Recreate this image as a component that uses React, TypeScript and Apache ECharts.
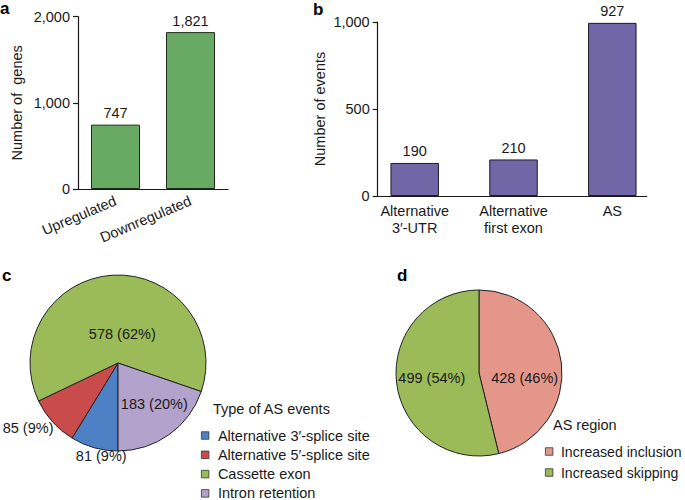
import React, { useEffect, useRef } from "react";
import * as echarts from "echarts";

// Panel a: differentially expressed genes
const geneCategories = ["Upregulated", "Downregulated"];
const geneCounts = [747, 1821];

// Panel b: events (bar heights as drawn, labels as printed)
const eventCategories = ["Alternative\n3\u2032-UTR", "Alternative\nfirst exon", "AS"];
const eventBarHeights = [190, 210, 995];
const eventLabels = ["190", "210", "927"];

// Panel c: type of AS events
const asTypeNames = [
  "Alternative 3\u2032-splice site",
  "Alternative 5\u2032-splice site",
  "Cassette exon",
  "Intron retention",
];
const asTypeCounts = [81, 85, 578, 183];
const asTypeColors = ["#4d80c4", "#c94b4b", "#9bbb59", "#b3a2cb"];

// Panel d: AS region
const regionNames = ["Increased inclusion", "Increased skipping"];
const regionCounts = [428, 499];
const regionColors = ["#e4968b", "#9bbb59"];

const FONT = "Liberation Sans, Arial, Helvetica, sans-serif";
const FS = 14.5;
const INK = "#1a1a1a";

const fmt = (v: number) => v.toLocaleString("en-US");

export default function App() {
  const ref = useRef<HTMLDivElement>(null);
  useEffect(() => {
    if (!ref.current) return;
    const chart = echarts.init(ref.current, undefined, { renderer: "svg" });

    const axisLine = { show: true, lineStyle: { color: INK, width: 1.2 } };
    const yTick = { show: true, length: 5, inside: false, lineStyle: { color: INK, width: 1.2 } };

    const pieCOffsets = [
      [-4, 48],
      [-55, 34],
      [7, 18],
      [9, 3],
    ];
    const pieDOffsets = [
      [1.5, 10],
      [-3, 0],
    ];
    const letterStyle = { fontSize: 17, fontWeight: "bold", color: "#000", fontFamily: FONT };

    chart.setOption({
      animation: false,
      textStyle: { fontFamily: FONT, color: INK },
      title: [
        { text: "a", left: 0, top: 0, padding: 0, textStyle: letterStyle },
        { text: "b", left: 313, top: 1, padding: 0, textStyle: letterStyle },
        { text: "c", left: 2, top: 267, padding: 0, textStyle: letterStyle },
        { text: "d", left: 397, top: 267, padding: 0, textStyle: letterStyle },
        { text: "Type of AS events", left: 213, top: 401, padding: 0, textStyle: { fontSize: FS, fontWeight: "normal", color: INK, fontFamily: FONT } },
        { text: "AS region", left: 553, top: 417, padding: 0, textStyle: { fontSize: FS, fontWeight: "normal", color: INK, fontFamily: FONT } },
      ],
      legend: [
        {
          data: asTypeNames,
          orient: "vertical",
          left: 201,
          top: 428,
          height: 90,
          padding: 0,
          itemWidth: 7.5,
          itemHeight: 7.5,
          itemGap: 4.3,
          icon: "rect",
          selectedMode: false,
          itemStyle: { borderColor: "#333", borderWidth: 0.8 },
          textStyle: { fontSize: FS, color: INK, fontFamily: FONT, padding: [0, 0, 0, 4] },
        },
        {
          data: regionNames,
          orient: "vertical",
          left: 545,
          top: 444.5,
          height: 60,
          padding: 0,
          itemWidth: 7.5,
          itemHeight: 7.5,
          itemGap: 7,
          icon: "rect",
          selectedMode: false,
          itemStyle: { borderColor: "#333", borderWidth: 0.8 },
          textStyle: { fontSize: 14.1, color: INK, fontFamily: FONT, padding: [0, 0, 0, 3] },
        },
      ],
      grid: [
        { left: 78, top: 16.7, width: 150, height: 172.3 },
        { left: 365.3, top: 22, width: 296.4, height: 174 },
        { left: 377.7, top: 22, width: 269, height: 174 },
      ],
      xAxis: [
        {
          gridIndex: 0,
          type: "category",
          data: geneCategories,
          axisLine,
          axisTick: { show: false },
          axisLabel: { rotate: 23, margin: 11, fontSize: FS, color: INK, fontFamily: FONT, interval: 0 },
        },
        {
          gridIndex: 1,
          type: "category",
          data: eventCategories,
          axisLine: { show: false },
          axisTick: { show: false },
          axisLabel: { margin: 7, fontSize: FS, lineHeight: 16.7, color: INK, fontFamily: FONT, interval: 0 },
        },
        {
          gridIndex: 2,
          type: "category",
          data: [""],
          axisLine,
          axisTick: { show: false },
          axisLabel: { show: false },
        },
      ],
      yAxis: [
        {
          gridIndex: 0,
          type: "value",
          min: 0,
          max: 2000,
          interval: 1000,
          axisLine,
          axisTick: yTick,
          splitLine: { show: false },
          axisLabel: { fontSize: FS, color: INK, fontFamily: FONT, formatter: (v: number) => fmt(v) },
          name: "Number of  genes",
          nameLocation: "middle",
          nameGap: 54,
          nameTextStyle: { fontSize: FS, color: INK, fontFamily: FONT },
        },
        {
          gridIndex: 1,
          type: "value",
          min: 0,
          max: 1000,
          show: false,
        },
        {
          gridIndex: 2,
          type: "value",
          min: 0,
          max: 1000,
          interval: 500,
          axisLine,
          axisTick: yTick,
          splitLine: { show: false },
          axisLabel: { fontSize: FS, color: INK, fontFamily: FONT, formatter: (v: number) => fmt(v) },
          name: "Number of events",
          nameLocation: "middle",
          nameGap: 50,
          nameTextStyle: { fontSize: FS, color: INK, fontFamily: FONT },
        },
      ],
      series: [
        {
          type: "bar",
          xAxisIndex: 0,
          yAxisIndex: 0,
          data: geneCounts,
          barWidth: 49,
          itemStyle: { color: "#68a963", borderColor: "#1e2b1c", borderWidth: 1 },
          label: {
            show: true,
            position: "top",
            distance: 4,
            fontSize: FS,
            color: INK,
            fontFamily: FONT,
            formatter: (p: any) => fmt(p.value),
          },
        },
        {
          type: "bar",
          xAxisIndex: 1,
          yAxisIndex: 1,
          data: eventBarHeights,
          barWidth: 48.5,
          itemStyle: { color: "#7167a7", borderColor: "#1c1a2b", borderWidth: 1 },
          label: {
            show: true,
            position: "top",
            distance: 4,
            fontSize: FS,
            color: INK,
            fontFamily: FONT,
            formatter: (p: any) => eventLabels[p.dataIndex],
          },
        },
        {
          type: "pie",
          center: [118, 363],
          radius: 88,
          startAngle: 270,
          clockwise: true,
          avoidLabelOverlap: false,
          percentPrecision: 0,
          data: asTypeNames.map((n, i) => ({ name: n, value: asTypeCounts[i], itemStyle: { color: asTypeColors[i] } })),
          itemStyle: { borderColor: "#222", borderWidth: 1 },
          label: {
            show: true,
            position: "inside",
            formatter: "{c} ({d}%)",
            fontSize: FS,
            color: INK,
            fontFamily: FONT,
          },
          labelLine: { show: false },
          labelLayout: (p: any) => ({ dx: pieCOffsets[p.dataIndex][0], dy: pieCOffsets[p.dataIndex][1] }),
          emphasis: { disabled: true },
        },
        {
          type: "pie",
          center: [479, 373],
          radius: 83,
          startAngle: 90,
          clockwise: true,
          avoidLabelOverlap: false,
          percentPrecision: 0,
          data: regionNames.map((n, i) => ({ name: n, value: regionCounts[i], itemStyle: { color: regionColors[i] } })),
          itemStyle: { borderColor: "#222", borderWidth: 1 },
          label: {
            show: true,
            position: "inside",
            formatter: "{c} ({d}%)",
            fontSize: FS,
            color: INK,
            fontFamily: FONT,
          },
          labelLine: { show: false },
          labelLayout: (p: any) => ({ dx: pieDOffsets[p.dataIndex][0], dy: pieDOffsets[p.dataIndex][1] }),
          emphasis: { disabled: true },
        },
      ],
    });
    return () => chart.dispose();
  }, []);

  return (
    <div
      ref={ref}
      style={{ position: "absolute", left: 0, top: 0, width: 685, height: 500, background: "#fff" }}
    />
  );
}
